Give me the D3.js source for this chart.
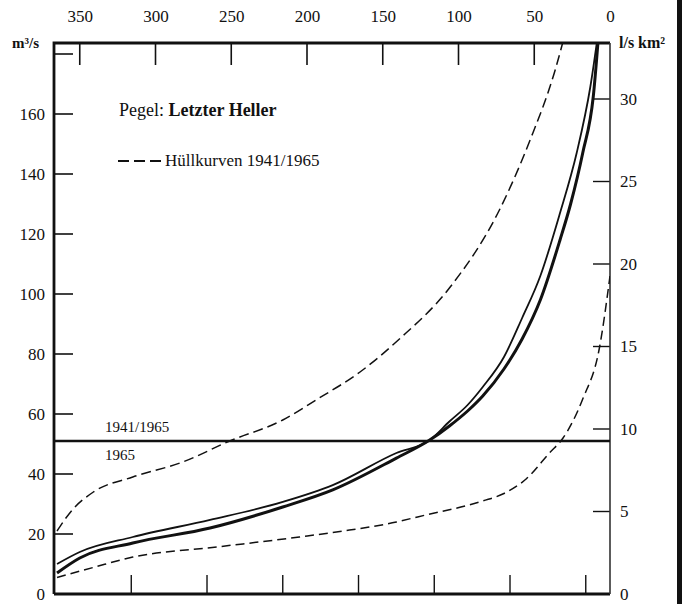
<!DOCTYPE html>
<html>
<head>
<meta charset="utf-8">
<script src="https://cdn.jsdelivr.net/npm/d3@7"></script>
<style>
  body { margin: 0; background: #fff; }
  svg text { font-family: "Liberation Serif", "DejaVu Serif", serif; fill: #111; }
</style>
</head>
<body>
<div id="chart"></div>
<script>
// Dauerlinie, Pegel Letzter Heller
const dayTicksTop = [350, 300, 250, 200, 150, 100, 50, 0];
const dayTicksBottom = [316, 266, 216, 166, 116, 66, 16];
const qTicks = [0, 20, 40, 60, 80, 100, 120, 140, 160, 180];
const qLabels = [0, 20, 40, 60, 80, 100, 120, 140, 160];
const spTicks = [0, 5, 10, 15, 20, 25, 30];

// Hüllkurve oben (dashed)
const upperDays = [365, 355, 341, 315, 282, 251, 216, 193, 165, 139, 106, 73, 53, 36, 28];
const upperQ    = [21, 28, 34, 39, 44, 51, 58, 65, 74, 85, 102, 128, 151, 175, 190];
// Hüllkurve unten (dashed)
const lowerDays = [365, 340, 315, 259, 205, 172, 141, 127, 84, 70, 55, 40, 31, 18, 7, 0];
const lowerQ    = [5.5, 9, 12.3, 15.7, 19, 21.3, 24, 25.7, 31, 33.5, 38.5, 47, 52, 65, 82, 106];
// Dauerlinie 1941/1965 (thin)
const meanDays = [365, 350, 315, 264, 216, 183, 141, 119, 106, 94, 84, 70, 58, 46, 33, 22, 13, 7];
const meanQ    = [10, 14, 19, 24.7, 30.7, 36.3, 47, 51.3, 57.5, 63, 69, 79, 92, 106, 127, 147, 169, 190];
// Dauerlinie 1965 (thick)
const y65Days = [365, 350, 315, 264, 216, 183, 141, 119, 106, 94, 84, 70, 58, 46, 33, 26, 18, 11, 7];
const y65Q    = [7, 12, 17, 22, 29, 34.7, 45.3, 51.3, 56, 61, 66, 75, 85, 98, 118, 130, 147, 166, 190];
// mittlerer Abfluss
const meanFlow = 51;

const width = 687, height = 604;
const mLeft = 54, mRight = 610, mTop = 43, mBottom = 594;

const svg = d3.select('#chart')
  .append('svg')
  .attr('width', width)
  .attr('height', height);

const x = d3.scaleLinear().domain([367, 0]).range([mLeft, mRight]);
const y = d3.scaleLinear().domain([0, (mBottom - mTop) / 3]).range([mBottom, mTop]);
const y2 = d3.scaleLinear().domain([0, (mBottom - mTop) / 16.5]).range([mBottom, mTop]);

svg.append('clipPath').attr('id', 'plot')
  .append('rect')
  .attr('x', mLeft).attr('y', mTop)
  .attr('width', mRight - mLeft).attr('height', mBottom - mTop);

// axes
const topAxis = d3.axisTop(x).tickValues(dayTicksTop).tickSize(0).tickPadding(21);
svg.append('g').attr('transform', `translate(0,${mTop})`).call(topAxis)
  .call(g => g.select('.domain').remove())
  .call(g => g.selectAll('text').attr('font-size', 17));

svg.append('g').selectAll('line').data(dayTicksTop.filter(d => d > 0)).join('line')
  .attr('x1', d => x(d)).attr('x2', d => x(d))
  .attr('y1', mTop).attr('y2', mTop + 22)
  .attr('stroke', '#111').attr('stroke-width', 1.6);

svg.append('g').selectAll('line').data(dayTicksBottom).join('line')
  .attr('x1', d => x(d)).attr('x2', d => x(d))
  .attr('y1', mBottom).attr('y2', mBottom - 19)
  .attr('stroke', '#111').attr('stroke-width', 1.4);

const leftAxis = d3.axisLeft(y).tickValues(qLabels).tickSize(0).tickPadding(9)
  .tickFormat(d3.format('d'));
svg.append('g').attr('transform', `translate(${mLeft},0)`).call(leftAxis)
  .call(g => g.select('.domain').remove())
  .call(g => g.selectAll('text').attr('font-size', 17));

svg.append('g').selectAll('line').data(qTicks.filter(d => d > 0)).join('line')
  .attr('x1', mLeft).attr('x2', mLeft + 19)
  .attr('y1', d => y(d)).attr('y2', d => y(d))
  .attr('stroke', '#111').attr('stroke-width', 1.6);

const rightAxis = d3.axisRight(y2).tickValues(spTicks).tickSize(0).tickPadding(10);
svg.append('g').attr('transform', `translate(${mRight},0)`).call(rightAxis)
  .call(g => g.select('.domain').remove())
  .call(g => g.selectAll('text').attr('font-size', 17));

svg.append('g').selectAll('line').data(spTicks.filter(d => d > 0)).join('line')
  .attr('x1', mRight).attr('x2', mRight - 17)
  .attr('y1', d => y2(d)).attr('y2', d => y2(d))
  .attr('stroke', '#111').attr('stroke-width', 1.4);

// frame
svg.append('path')
  .attr('d', `M${mLeft},${mBottom}V${mTop}H${mRight}`)
  .attr('fill', 'none').attr('stroke', '#111').attr('stroke-width', 2.8);
svg.append('path')
  .attr('d', `M${mLeft},${mBottom}H${mRight}`)
  .attr('fill', 'none').attr('stroke', '#111').attr('stroke-width', 2.8);
svg.append('path')
  .attr('d', `M${mRight},${mTop}V${mBottom}`)
  .attr('fill', 'none').attr('stroke', '#333').attr('stroke-width', 1.6);

// unit labels
svg.append('text').attr('x', 12).attr('y', 48).attr('font-size', 15).attr('font-weight', 'bold').text('m³/s');
svg.append('text').attr('x', 619).attr('y', 48).attr('font-size', 16).attr('font-weight', 'bold').text('l/s km²');

// curves
const line = d3.line().x(d => x(d[0])).y(d => y(d[1])).curve(d3.curveMonotoneX);
const plot = svg.append('g').attr('clip-path', 'url(#plot)');

plot.append('path').datum(d3.zip(upperDays, upperQ))
  .attr('d', line).attr('fill', 'none').attr('stroke', '#111')
  .attr('stroke-width', 1.5).attr('stroke-dasharray', '10,5');
plot.append('path').datum(d3.zip(lowerDays, lowerQ))
  .attr('d', line).attr('fill', 'none').attr('stroke', '#111')
  .attr('stroke-width', 1.5).attr('stroke-dasharray', '9,5');
plot.append('path').datum(d3.zip(meanDays, meanQ))
  .attr('d', line).attr('fill', 'none').attr('stroke', '#111')
  .attr('stroke-width', 1.8);
plot.append('path').datum(d3.zip(y65Days, y65Q))
  .attr('d', line).attr('fill', 'none').attr('stroke', '#111')
  .attr('stroke-width', 3);

// mean flow line
svg.append('line')
  .attr('x1', mLeft).attr('x2', mRight)
  .attr('y1', y(meanFlow)).attr('y2', y(meanFlow))
  .attr('stroke', '#111').attr('stroke-width', 2.6);
svg.append('text').attr('x', 105).attr('y', y(meanFlow) - 9).attr('font-size', 15).text('1941/1965');
svg.append('text').attr('x', 105).attr('y', y(meanFlow) + 19).attr('font-size', 15).text('1965');

// legend
const lg = svg.append('text').attr('x', 119).attr('y', 116).attr('font-size', 18);
lg.append('tspan').text('Pegel: ');
lg.append('tspan').attr('font-weight', 'bold').text('Letzter Heller');
svg.append('line')
  .attr('x1', 118).attr('x2', 163).attr('y1', 161).attr('y2', 161)
  .attr('stroke', '#111').attr('stroke-width', 1.8).attr('stroke-dasharray', '11,5');
svg.append('text').attr('x', 165).attr('y', 166).attr('font-size', 17).text('Hüllkurven 1941/1965');

// scan edge
svg.append('rect').attr('x', 677).attr('y', 0).attr('width', 5).attr('height', height).attr('fill', '#111');
</script>
</body>
</html>
